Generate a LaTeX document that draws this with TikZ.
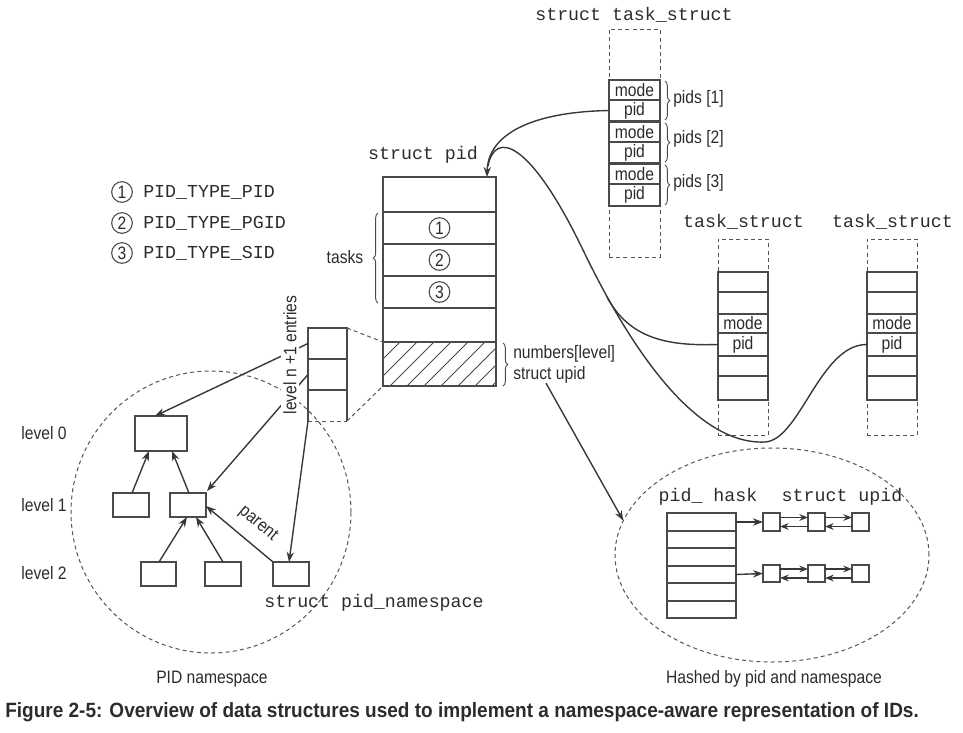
\documentclass[tikz,border=0pt]{standalone}
\usepackage{fontspec}
\setmainfont[FakeStretch=0.87]{Liberation Sans}
\newfontfamily\capfont[FakeStretch=0.92]{Liberation Sans}
\newfontfamily\codefont{Liberation Mono}
\usetikzlibrary{arrows.meta,fit,calc,shapes.geometric,decorations.pathreplacing}
\definecolor{linec}{HTML}{383838}
\definecolor{boxc}{HTML}{4A4A4A}
\definecolor{txt}{HTML}{2C2C2C}
\definecolor{dashc}{HTML}{555555}
\begin{document}
\begin{tikzpicture}[x=0.75pt,y=-0.75pt,
  cellbox/.style={draw=boxc,line width=0.9pt,inner sep=0pt,outer sep=0pt},
  area/.style={inner sep=0pt,outer sep=0pt},
  lbl/.style={font=\fontsize{13.5}{15.75}\selectfont,text=txt,inner sep=0pt},
  code/.style={font=\codefont\fontsize{13.7}{15}\selectfont,text=txt,inner sep=0pt},
  conn/.style={draw=linec,line width=1.05pt},
  arr/.style={conn,-{Stealth[length=7.5pt,width=5.5pt]}},
  smallarr/.style={conn,-{Stealth[length=6.5pt,width=5pt]}},
  dashbox/.style={draw=dashc,line width=0.75pt,dash pattern=on 3pt off 2.4pt},
  boxline/.style={draw=boxc,line width=0.9pt},
  hatch/.style={draw=boxc,line width=0.6pt},
  numcirc/.style={circle,draw=boxc,line width=0.8pt,minimum size=15.5pt,inner sep=0pt,
    font=\fontsize{13.5}{15}\selectfont,text=txt},
  bracedeco/.style={draw=boxc,line width=0.7pt,decorate,decoration={brace,amplitude=3.5pt}}]

\useasboundingbox (0,0) rectangle (963,732);

% ---------------- struct task_struct (top) ----------------
\node[code] (tsTitle) at (634,15) {struct task\_struct};
\node[dashbox,area,fit={(609,29)(660,257)}] (tsTop) {};
\node[cellbox,fill=white,fit={(609,80)(660,100)}]  (m1) {};
\node[cellbox,fill=white,fit={(609,100)(660,121)}] (p1) {};
\node[cellbox,fill=white,fit={(609,122)(660,142)}] (m2) {};
\node[cellbox,fill=white,fit={(609,142)(660,163)}] (p2) {};
\node[cellbox,fill=white,fit={(609,164)(660,184)}] (m3) {};
\node[cellbox,fill=white,fit={(609,184)(660,206)}] (p3) {};
\foreach \c/\t in {m1/mode,p1/pid,m2/mode,p2/pid,m3/mode,p3/pid}
  \node[lbl] at (\c) {\t};
\draw[bracedeco] ($(m1.north east)+(5,1)$) -- ($(p1.south east)+(5,-1)$);
\draw[bracedeco] ($(m2.north east)+(5,1)$) -- ($(p2.south east)+(5,-1)$);
\draw[bracedeco] ($(m3.north east)+(5,1)$) -- ($(p3.south east)+(5,-1)$);
\node[lbl,anchor=west] (pids1) at (673,99)  {pids [1]};
\node[lbl,anchor=west] (pids2) at (673,139) {pids [2]};
\node[lbl,anchor=west] (pids3) at (673,183) {pids [3]};

% ---------------- struct pid ----------------
\node[code] (pidTitle) at (423,155) {struct pid};
\node[cellbox,fit={(383,177)(496,212)}] (r0) {};
\node[cellbox,fit={(383,212)(496,244)}] (r1) {};
\node[cellbox,fit={(383,244)(496,276)}] (r2) {};
\node[cellbox,fit={(383,276)(496,308)}] (r3) {};
\node[cellbox,fit={(383,308)(496,342)}] (r4) {};
\node[area,fit={(383,342)(496,386)}] (r5) {};
\begin{scope}
  \clip (r5.north west) rectangle (r5.south east);
  \foreach \k in {0,...,10}
    \draw[hatch] (339+17*\k,386) -- ++(46,-46);
\end{scope}
\draw[boxline] (r5.north west) rectangle (r5.south east);
\node[numcirc] (c1) at (r1) {1};
\node[numcirc] (c2) at (r2) {2};
\node[numcirc] (c3) at (r3) {3};
\draw[bracedeco] (378,303) -- (378,213);
\node[lbl] (tasks) at (345,257) {tasks};
\draw[bracedeco] (503,343) -- (503,386);
\node[lbl,anchor=west,align=left] (upidlbl) at (513,364) {numbers[level]\\struct upid};

% ---------------- legend ----------------
\node[numcirc] (k1) at (122,192) {1};
\node[numcirc] (k2) at (122,223) {2};
\node[numcirc] (k3) at (122,253) {3};
\node[code,anchor=west] at (143,192) {PID\_TYPE\_PID};
\node[code,anchor=west] at (143,223) {PID\_TYPE\_PGID};
\node[code,anchor=west] at (143,253) {PID\_TYPE\_SID};

% ---------------- numbers[] array ----------------
\node[area,fit={(308,328)(347,359)}] (lv1) {};
\node[area,fit={(308,359)(347,390)}] (lv2) {};
\node[area,fit={(308,390)(347,421)}] (lv3) {};
\draw[boxline] (lv3.south west) -- (lv1.north west) -- (lv1.north east) -- (lv3.south east);
\draw[boxline] (lv1.south west) -- (lv1.south east);
\draw[boxline] (lv2.south west) -- (lv2.south east);
\draw[dashbox] (lv3.south west) -- (lv3.south east);
\draw[dashbox] (lv1.north east) -- (r5.north west);
\draw[dashbox] (lv3.south east) -- (r5.south west);

% ---------------- PID namespace tree ----------------
\node[dashbox,ellipse,area,minimum width=210pt,minimum height=211.5pt] (nsring) at (211,512) {};
\node[cellbox,fit={(135,416)(187,451)}] (L0) {};
\node[cellbox,fit={(113,493)(149,517)}] (L1a) {};
\node[cellbox,fit={(170,493)(206,517)}] (L1b) {};
\node[cellbox,fit={(141,562)(176,586)}] (L2a) {};
\node[cellbox,fit={(205,562)(241,586)}] (L2b) {};
\node[cellbox,fit={(273,562)(309,586)}] (L2c) {};
\draw[arr] ($(L1a.north west)+(19,0)$) -- ($(L0.south west)+(14,0)$);
\draw[arr] ($(L1b.north west)+(19,0)$) -- ($(L0.south west)+(37,0)$);
\draw[arr] ($(L2a.north west)+(18,0)$) -- ($(L1b.south west)+(17,0)$);
\draw[arr] ($(L2b.north west)+(18,0)$) -- ($(L1b.south west)+(26,0)$);
\draw[arr] (L2c.north west) -- ($(L1b.north east)+(0,13)$);
\node[lbl,rotate=-40] (parentlbl) at (258,524) {parent};
\draw[arr] (lv1.west) -- ($(L0.north west)+(20,0)$);
\draw[arr] (lv2.west) -- ($(L1b.north east)+(1,-2)$);
\draw[arr] (lv3.south west) -- ($(L2c.north west)+(16,0)$);
\node[lbl,rotate=90,fill=white,inner sep=1.5pt] (lvtxt) at (290,355) {level n +1 entries};
\node[lbl] at (44,433) {level 0};
\node[lbl] at (44,505) {level 1};
\node[lbl] at (44,573) {level 2};
\node[code] at (374,603) {struct pid\_namespace};
\node[lbl] at (212,679) {PID namespace};

% ---------------- two task_structs ----------------
\foreach \n/\x in {a/718,b/867}{
  \node[code] at (\x+25.5,222) {task\_struct};
  \node[dashbox,area,fit={(\x,239)(\x+50,435)}] (ts\n) {};
  \node[cellbox,fill=white,fit={(\x,272)(\x+50,292)}] (\n c1) {};
  \node[cellbox,fill=white,fit={(\x,292)(\x+50,314)}] (\n c2) {};
  \node[cellbox,fill=white,fit={(\x,314)(\x+50,333)}] (\n mode) {};
  \node[cellbox,fill=white,fit={(\x,333)(\x+50,356)}] (\n pid) {};
  \node[cellbox,fill=white,fit={(\x,356)(\x+50,376)}] (\n c5) {};
  \node[cellbox,fill=white,fit={(\x,376)(\x+50,400)}] (\n c6) {};
  \node[lbl] at (\n mode) {mode};
  \node[lbl] at (\n pid) {pid};
}

% ---------------- links between pid and tasks ----------------
\coordinate (pidtip) at ($(r0.north east)+(-9,0)$);
\coordinate (hookstart) at (488,166);
\coordinate (bend1) at (583,250);
\coordinate (valley) at (765,442);
\coordinate (fork) at (607,297);
\draw[arr] (p1.west) .. controls (530,112) and (488,135) .. (pidtip);
\draw[conn] (hookstart) .. controls (495,130) and (530,140) .. (bend1)
  .. controls (636,360) and (700,445) .. (valley)
  .. controls (800,440) and (820,344) .. (bpid.west);
\draw[conn] (fork) .. controls (630,340) and (670,346) .. (apid.west);

% ---------------- hash table ----------------
\node[dashbox,ellipse,area,minimum width=235.5pt,minimum height=160.5pt] (hash) at (772,555) {};
\node[code] at (708,497) {pid\_ hask};
\node[code] at (842,497) {struct upid};
\foreach \i/\ya/\yb in {1/513/531,2/531/548,3/548/566,4/566/583,5/583/601,6/601/618}
  \node[cellbox,fit={(667,\ya)(736,\yb)}] (h\i) {};
\foreach \r/\ya/\yb in {1/513/531,2/565/582}{
  \node[cellbox,fit={(763,\ya)(780,\yb)}] (u\r a) {};
  \node[cellbox,fit={(808,\ya)(825,\yb)}] (u\r b) {};
  \node[cellbox,fit={(852,\ya)(869,\yb)}] (u\r c) {};
  \draw[smallarr] ($(u\r a.east)+(0,-4.5)$) -- ($(u\r b.west)+(0,-4.5)$);
  \draw[smallarr] ($(u\r b.west)+(0,4.5)$) -- ($(u\r a.east)+(0,4.5)$);
  \draw[smallarr] ($(u\r b.east)+(0,-4.5)$) -- ($(u\r c.west)+(0,-4.5)$);
  \draw[smallarr] ($(u\r c.west)+(0,4.5)$) -- ($(u\r b.east)+(0,4.5)$);
}
\draw[arr] (h1.east) -- (u1a.west);
\draw[arr] (h4.east) -- (u2a.west);
\draw[arr] ($(upidlbl.south west)+(33,0)$) -- (hash.167);
\node[lbl] at (774,679) {Hashed by pid and namespace};

% ---------------- caption ----------------
\node[lbl,font=\capfont\fontsize{15.5}{18}\selectfont\bfseries,anchor=west] (caption) at (5,712)
  {Figure 2-5: Overview of data structures used to implement a namespace-aware representation of IDs.};
\end{tikzpicture}
\end{document}
